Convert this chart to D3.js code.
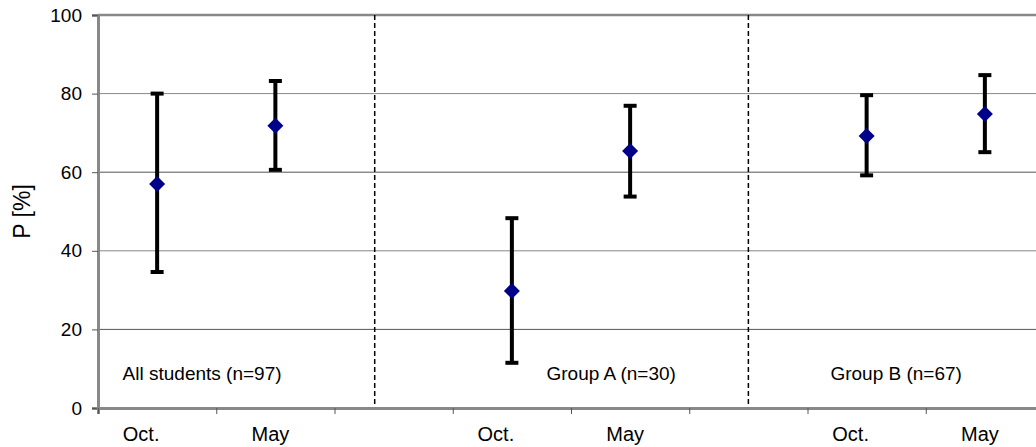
<!DOCTYPE html>
<html>
<head>
<meta charset="utf-8">
<script src="https://cdn.jsdelivr.net/npm/d3@7"></script>
<style>
  body { margin: 0; background: #fff; }
  text { font-family: Arial, "Liberation Sans", sans-serif; fill: #000; }
</style>
</head>
<body>
<div id="chart"></div>
<script>
// category slots along the x axis (empty strings are spacer slots)
const categories = ['Oct.', 'May', '', 'Oct.', 'May', '', 'Oct.', 'May'];

// points: slot index, mean, lower and upper end of the error bar
const slots = [0, 1, 3, 4, 6, 7];
const means = [57.0, 71.8, 29.8, 65.4, 69.2, 74.8];
const lows  = [34.6, 60.6, 11.5, 53.8, 59.2, 65.1];
const highs = [80.0, 83.2, 48.3, 76.9, 79.6, 84.7];

// group separators and labels, in slot units
const dividers = [2.34, 5.5];
const groupNames = ['All students (n=97)', 'Group A (n=30)', 'Group B (n=67)'];
const groupPos = [0.88, 4.34, 6.75];

const yTicks = [0, 20, 40, 60, 80, 100];

const config = {
  width: 1036, height: 447,
  left: 98, top: 15, bottom: 408,
  slotWidth: 118.25,
  // the category labels sit a little left of the slot centre
  labelShift: { 'Oct.': -16, 'May': -5 }
};

const svg = d3.select('#chart')
  .append('svg')
  .attr('width', config.width)
  .attr('height', config.height);

const scaleX = d3.scaleLinear()
  .domain([0, categories.length])
  .range([config.left, config.left + config.slotWidth * categories.length]);

const scaleY = d3.scaleLinear()
  .domain([0, 100])
  .range([config.bottom, config.top]);

// horizontal gridlines
svg.selectAll('.grid')
  .data(yTicks.filter(d => d > 0 && d < 100))
  .join('line')
  .attr('class', 'grid')
  .attr('x1', config.left)
  .attr('x2', config.width)
  .attr('y1', d => scaleY(d))
  .attr('y2', d => scaleY(d))
  .attr('stroke', (d, i) => i % 2 === 0 ? '#555' : '#888')
  .attr('stroke-width', 1);

// top border of plot area
svg.append('line')
  .attr('x1', config.left).attr('x2', config.width)
  .attr('y1', scaleY(100)).attr('y2', scaleY(100))
  .attr('stroke', '#888').attr('stroke-width', 2.5);

// dashed separators
svg.selectAll('.divider')
  .data(dividers)
  .join('line')
  .attr('class', 'divider')
  .attr('x1', d => scaleX(d)).attr('x2', d => scaleX(d))
  .attr('y1', scaleY(100)).attr('y2', scaleY(0))
  .attr('stroke', '#000')
  .attr('stroke-width', 1.5)
  .attr('stroke-dasharray', '5,3');

// y axis
const axisY = svg.append('g')
  .attr('transform', `translate(${config.left},0)`)
  .call(d3.axisLeft(scaleY).tickValues(yTicks).tickSize(6).tickPadding(10));
axisY.select('.domain').attr('stroke', '#888').attr('stroke-width', 3);
axisY.selectAll('.tick line').attr('stroke', '#555');
axisY.selectAll('.tick text')
  .attr('font-size', 19)
  .style('font-size', '19px')
  .attr('fill', '#000');

// x axis: ticks on slot boundaries, labels near slot centres
const axisX = svg.append('g')
  .attr('transform', `translate(0,${config.bottom})`)
  .call(d3.axisBottom(scaleX).tickValues(d3.range(categories.length + 1)).tickSize(6).tickFormat(''));
axisX.select('.domain').attr('stroke', '#888').attr('stroke-width', 3);
axisX.selectAll('.tick line').attr('stroke', '#555');

svg.selectAll('.xlabel')
  .data(categories)
  .join('text')
  .attr('class', 'xlabel')
  .attr('x', (d, i) => scaleX(i + 0.5) + (config.labelShift[d] || 0))
  .attr('y', 441)
  .attr('text-anchor', 'middle')
  .style('font-size', '20px')
  .text(d => d);

// y axis title
svg.append('text')
  .attr('transform', `translate(30,${(scaleY(0) + scaleY(100)) / 2}) rotate(-90)`)
  .attr('text-anchor', 'middle')
  .style('font-size', '23px')
  .text('P [%]');

// group labels
svg.selectAll('.group')
  .data(groupNames)
  .join('text')
  .attr('class', 'group')
  .attr('x', (d, i) => scaleX(groupPos[i]))
  .attr('y', 380)
  .attr('text-anchor', 'middle')
  .style('font-size', '19px')
  .text(d => d);

// error bars
const points = slots.map((s, i) => ({ slot: s, mean: means[i], low: lows[i], high: highs[i] }));
const cap = 6.5;

const bars = svg.selectAll('.bar')
  .data(points)
  .join('g')
  .attr('class', 'bar')
  .attr('stroke', '#000')
  .attr('stroke-width', 4);

bars.append('line')
  .attr('x1', d => scaleX(d.slot + 0.5)).attr('x2', d => scaleX(d.slot + 0.5))
  .attr('y1', d => scaleY(d.low)).attr('y2', d => scaleY(d.high));
bars.append('line')
  .attr('x1', d => scaleX(d.slot + 0.5) - cap).attr('x2', d => scaleX(d.slot + 0.5) + cap)
  .attr('y1', d => scaleY(d.low)).attr('y2', d => scaleY(d.low));
bars.append('line')
  .attr('x1', d => scaleX(d.slot + 0.5) - cap).attr('x2', d => scaleX(d.slot + 0.5) + cap)
  .attr('y1', d => scaleY(d.high)).attr('y2', d => scaleY(d.high));

// diamond markers
svg.selectAll('.marker')
  .data(points)
  .join('path')
  .attr('class', 'marker')
  .attr('transform', d => `translate(${scaleX(d.slot + 0.5)},${scaleY(d.mean)})`)
  .attr('d', 'M0,-8L8,0L0,8L-8,0Z')
  .attr('fill', '#00008B');
</script>
</body>
</html>
